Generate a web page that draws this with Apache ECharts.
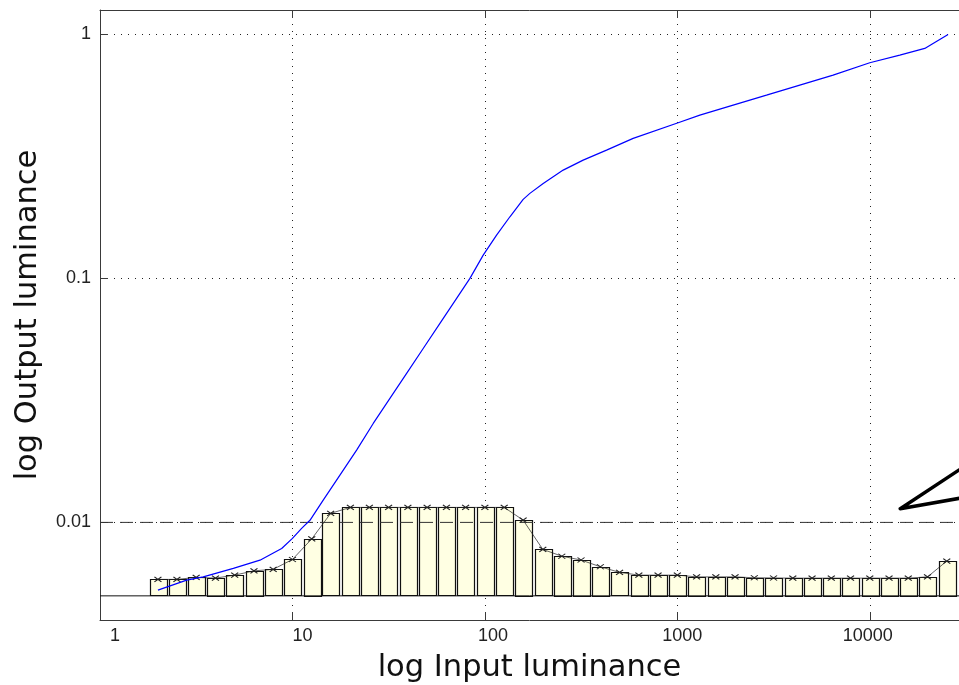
<!DOCTYPE html>
<html><head><meta charset="utf-8">
<script src="https://cdn.jsdelivr.net/npm/echarts@6/dist/echarts.min.js"></script>
<style>html,body{margin:0;padding:0;background:#fff}#c{width:959px;height:685px}</style>
</head><body><div id="c"></div>
<script>
// ---- data ----
const xTickLabels = ['1', '10', '100', '1000', '10000'];
const yTickLabels = { '-2': '0.01', '-1': '0.1', '0': '1' };

// histogram bins (centres, log-spaced) and heights
const binCenters = [2.0, 2.51, 3.16, 3.98, 5.01, 6.31, 7.94, 10, 12.6, 15.8,
  20, 25.1, 31.6, 39.8, 50.1, 63.1, 79.4, 100, 126, 158,
  200, 251, 316, 398, 501, 631, 794, 1000, 1259, 1585,
  1995, 2512, 3162, 3981, 5012, 6310, 7943, 10000, 12589, 15849,
  19953, 25119];
const binHeights = [0.00584, 0.00584, 0.00595, 0.00591, 0.00608, 0.00633, 0.00642, 0.00705, 0.00856, 0.01089,
  0.01152, 0.01152, 0.01152, 0.01152, 0.01152, 0.01152, 0.01152, 0.01152, 0.01152, 0.01022,
  0.00775, 0.00727, 0.00701, 0.00658, 0.00624, 0.00608, 0.00608, 0.00608, 0.00598, 0.00598,
  0.00598, 0.00593, 0.00592, 0.00591, 0.00591, 0.00591, 0.00591, 0.00591, 0.00591, 0.00591,
  0.00598, 0.00694];
const histBase = 0.005;
const refLevel = 0.01;

// tone curve (blue)
const curveX = [2.0, 2.82, 3.44, 4.93, 6.78, 8.79, 10.0, 11.16, 12.33, 14.45,
  17.65, 21.55, 26.29, 32.1, 39.2, 47.8, 58.4, 71.3, 83.6, 98.0,
  115.0, 134.9, 158.1, 171.3, 200.9, 255.2, 324.1, 428.7, 589.4, 1010,
  1309, 1950, 2906, 4329, 6448, 10000, 14320, 19310, 21320, 25520];
const curveY = [0.00528, 0.0058, 0.00598, 0.00648, 0.0070, 0.00782, 0.0086, 0.00945, 0.0102, 0.01234,
  0.01563, 0.01978, 0.02544, 0.03222, 0.0408, 0.0516, 0.0654, 0.0828, 0.100, 0.1246,
  0.1505, 0.1789, 0.2108, 0.2231, 0.2451, 0.2779, 0.3053, 0.3356, 0.3748, 0.4342,
  0.4669, 0.5132, 0.5638, 0.6197, 0.6810, 0.7650, 0.8229, 0.8763, 0.9186, 1.0];

// annotation arrow (upper arm end, tip, lower arm end)
const arrowX = [32690, 14400, 32690];
const arrowY = [0.01742, 0.01138, 0.01275];

// ---- chart ----
const xMin = 1, xMax = 29080, yMin = 0.0039811, yMax = 1.2589;
const labelFont = 'Liberation Sans, Arial, sans-serif';
const nameFont = 'DejaVu Sans, sans-serif';
const axisCol = '#3a3a3a';

const histData = binCenters.map((x, i) => [x, binHeights[i]]);
const curveData = curveX.map((x, i) => [x, curveY[i]]);
const arrowData = arrowX.map((x, i) => [x, arrowY[i]]);
const refData = [[xMin, refLevel], [xMax, refLevel]];
const baseData = [[xMin, histBase], [xMax, histBase]];

const xRich = {};
const xPad = [[0,0,0,30],[0,0,0,20],[0,0,0,16],[0,0,0,10],[0,4,0,0]];
xPad.forEach((p, k) => { xRich['t' + k] = { padding: p, fontSize: 18, fontFamily: labelFont, color: '#222' }; });

const chart = echarts.init(document.getElementById('c'), null, { renderer: 'canvas' });
chart.setOption({
  animation: false,
  backgroundColor: '#fff',
  grid: { left: 100, top: 10, right: 0, height: 610, containLabel: false, outerBoundsMode: 'none' },
  xAxis: [{
    type: 'log', logBase: 10, min: xMin, max: xMax,
    name: 'log Input luminance', nameLocation: 'middle', nameGap: 33,
    nameTextStyle: { fontSize: 30.5, fontFamily: nameFont, color: '#111' },
    axisLine: { show: true, lineStyle: { color: axisCol, width: 1 } },
    axisTick: { show: true, inside: true, length: 8, lineStyle: { color: axisCol } },
    minorTick: { show: false },
    axisLabel: {
      margin: 7, showMaxLabel: false,
      formatter: function (v) {
        const e = Math.log10(v), k = Math.round(e);
        if (Math.abs(e - k) > 1e-6 || k < 0 || k >= xTickLabels.length) return '';
        return '{t' + k + '|' + xTickLabels[k] + '}';
      },
      rich: xRich
    },
    splitLine: { show: true, lineStyle: { color: '#222', width: 1, type: [1, 6] } }
  }, {
    type: 'log', logBase: 10, min: xMin, max: xMax, position: 'top',
    axisLine: { show: true, lineStyle: { color: axisCol, width: 1 } },
    axisTick: { show: true, inside: true, length: 8, lineStyle: { color: axisCol } },
    axisLabel: { show: false }, splitLine: { show: false }
  }],
  yAxis: [{
    type: 'log', logBase: 10, min: yMin, max: yMax,
    name: 'log Output luminance', nameLocation: 'middle', nameGap: 56,
    nameTextStyle: { fontSize: 30.5, fontFamily: nameFont, color: '#111' },
    axisLine: { show: true, lineStyle: { color: axisCol, width: 1 } },
    axisTick: { show: true, inside: true, length: 8, lineStyle: { color: axisCol } },
    axisLabel: {
      margin: 9, fontSize: 18, fontFamily: labelFont, color: '#222',
      showMinLabel: false, showMaxLabel: false,
      formatter: function (v) {
        const e = Math.log10(v), k = Math.round(e);
        if (Math.abs(e - k) > 1e-6) return '';
        return yTickLabels[String(k)] || '';
      }
    },
    splitLine: { show: true, lineStyle: { color: '#222', width: 1, type: [1, 6] } }
  }],
  series: [{
    type: 'custom', name: 'hist', z: 3, clip: true,
    data: histData,
    renderItem: function (params, api) {
      const x = api.value(0), v = api.value(1);
      const f = Math.pow(10, 0.0429);
      const pl = api.coord([x / f, v]);
      const pr = api.coord([x * f, histBase]);
      return {
        type: 'rect',
        shape: { x: Math.round(pl[0]) + 0.5, y: Math.round(pl[1]) + 0.5, width: Math.round(pr[0] - pl[0]), height: Math.round(pr[1] - pl[1]) },
        style: { fill: '#FFFFE3', stroke: '#111', lineWidth: 1.2 }
      };
    }
  }, {
    type: 'line', name: 'ref', z: 4, data: refData, symbol: 'none', showSymbol: false,
    lineStyle: { color: '#333', width: 1, type: [13, 7] }
  }, {
    type: 'line', name: 'base', z: 4, data: baseData, symbol: 'none', showSymbol: false,
    lineStyle: { color: '#111', width: 1, type: 'solid' }
  }, {
    type: 'line', name: 'histline', z: 5, data: histData,
    symbol: 'path://M0 0L6 4M0 4L6 0', symbolSize: [7, 5],
    itemStyle: { color: '#000', borderColor: '#222', borderWidth: 1 },
    lineStyle: { color: '#222', width: 0.7 }
  }, {
    type: 'line', name: 'curve', z: 6, data: curveData,
    showSymbol: false, symbol: 'none',
    lineStyle: { color: '#0000FF', width: 1.2 }
  }, {
    type: 'line', name: 'arrow', z: 7, data: arrowData,
    showSymbol: false, symbol: 'none', clip: true,
    lineStyle: { color: '#000', width: 3.5, join: 'round', cap: 'round' }
  }]
});
</script>
</body></html>
